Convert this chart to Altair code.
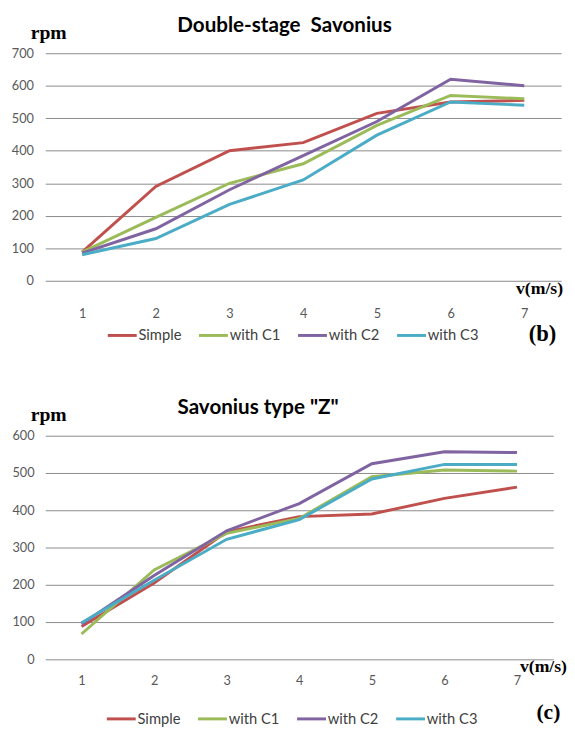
import altair as alt
import pandas as pd

# ---------------- data ----------------
speeds = ["1", "2", "3", "4", "5", "6", "7"]
series_names = ["Simple", "with C1", "with C2", "with C3"]
series_colors = ["#C0504D", "#9BBB59", "#8064A2", "#4BACC6"]

# (b) Double-stage Savonius
b_simple = [88, 290, 400, 425, 515, 550, 555]
b_c1 = [88, 195, 300, 360, 478, 570, 560]
b_c2 = [85, 160, 280, 385, 490, 620, 600]
b_c3 = [80, 130, 235, 310, 448, 550, 540]

# (c) Savonius type "Z"
c_simple = [88, 205, 342, 383, 390, 432, 462]
c_c1 = [68, 240, 338, 378, 490, 508, 505]
c_c2 = [95, 225, 345, 418, 525, 557, 555]
c_c3 = [98, 212, 322, 375, 484, 523, 523]

b_ticks = [0, 100, 200, 300, 400, 500, 600, 700]
c_ticks = [0, 100, 200, 300, 400, 500, 600]

b_title = "Double-stage\u00a0 Savonius"
c_title = 'Savonius type "Z"'
y_label = "rpm"
x_label = "v(m/s)"
b_tag = "(b)"
c_tag = "(c)"

SANS = "Lato"
SERIF = "Liberation Serif"


def long_df(vals_list):
    rows = []
    for name, vals in zip(series_names, vals_list):
        for s, v in zip(speeds, vals):
            rows.append({"v": s, "rpm": v, "series": name})
    return pd.DataFrame(rows)


def txt(text, x, y, size, font, weight="normal", align="center",
        baseline="alphabetic", color="#000000", opacity=1.0):
    return alt.Chart(pd.DataFrame({"t": [text]})).mark_text(
        font=font, fontSize=size, fontWeight=weight, align=align,
        baseline=baseline, color=color, opacity=opacity
    ).encode(text="t:N", x=alt.value(x), y=alt.value(y))


def panel(vals_list, ticks, width, height, title, title_x, tag, tag_x,
          tag_size, xlab_x, xlab_pad, ylab_pad, legend_x, legend_y,
          extra_left=None):
    df = long_df(vals_list)
    lines = alt.Chart(df).mark_line(strokeWidth=3).encode(
        x=alt.X("v:O", sort=speeds,
                scale=alt.Scale(type="point", padding=0.5),
                axis=alt.Axis(title=None, labelAngle=0, domain=False,
                              ticks=False, grid=False,
                              labelPadding=xlab_pad, labelFont=SANS,
                              labelFontSize=13, labelColor="#595959")),
        y=alt.Y("rpm:Q",
                scale=alt.Scale(domain=[0, ticks[-1]], nice=False, zero=True),
                axis=alt.Axis(title=None, values=ticks, domain=False,
                              ticks=False, grid=True, gridColor="#8a8a8a",
                              gridWidth=1, labelPadding=ylab_pad,
                              labelFont=SANS, labelFontSize=13,
                              labelColor="#595959")),
        color=alt.Color("series:N",
                        scale=alt.Scale(domain=series_names,
                                        range=series_colors),
                        legend=alt.Legend(
                            title=None, orient="none",
                            legendX=legend_x, legendY=legend_y,
                            direction="horizontal", columns=4,
                            symbolType="stroke", symbolSize=870,
                            symbolStrokeWidth=3, labelFont=SANS,
                            labelFontSize=15, labelColor="#404040",
                            labelOffset=0, columnPadding=11)),
    )
    layers = [
        lines,
        txt(title, title_x, -28, 21, SANS, weight="bold", baseline="middle"),
        txt(y_label, 3.5, -14.6, 20, SERIF, weight="bold"),
        txt(x_label, xlab_x, height + 13, 18, SERIF, weight="bold",
            align="right"),
        txt(tag, tag_x, height + 61, tag_size, SERIF, weight="bold"),
    ]
    if extra_left is not None:
        layers.append(txt(".", extra_left, height / 2, 10, SANS,
                          align="left", opacity=0))
    return alt.layer(*layers).properties(width=width, height=height)


top = panel([b_simple, b_c1, b_c2, b_c3], b_ticks, 526, 232,
            b_title, 244, b_tag, 507, 23, 528, 27, 12, 62, 271,
            extra_left=-38)
bottom = panel([c_simple, c_c1, c_c2, c_c3], c_ticks, 518, 228,
               c_title, 217, c_tag, 513, 22, 532, 16, 11.4, 61, 272)

chart = alt.vconcat(top, bottom, spacing=53).resolve_scale(
    color="independent"
).resolve_legend(color="independent").properties(
    padding={"left": 0, "top": 0, "right": 0, "bottom": 0}
).configure_view(stroke=None)

chart.save("out.html", embed_options={"renderer": "svg", "actions": False})
